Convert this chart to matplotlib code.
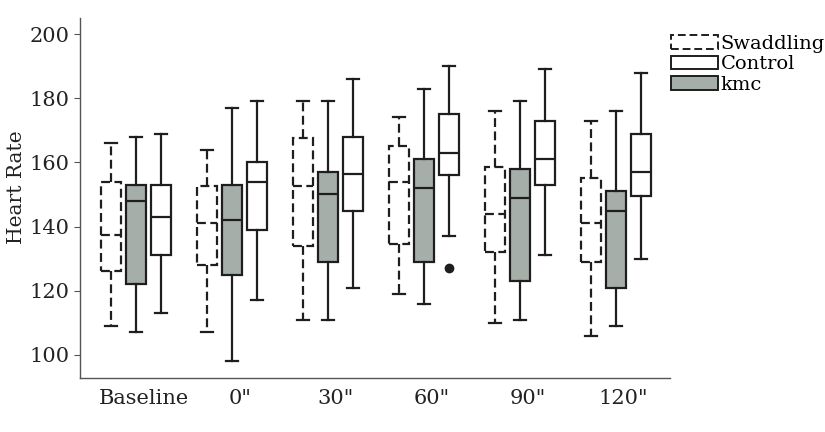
import numpy as np
import matplotlib.pyplot as plt
from matplotlib.patches import Patch

plt.rcParams['font.family'] = ['DejaVu Serif']

times = ['Baseline', '0"', '30"', '60"', '90"', '120"']

# Swaddling
swad_low = [109, 107, 111, 119, 110, 106]
swad_q1 = [126, 128, 134, 134.5, 132, 129]
swad_med = [137.5, 141, 152.5, 154, 144, 141]
swad_q3 = [154, 152.5, 167.5, 165, 158.5, 155]
swad_high = [166, 164, 179, 174, 176, 173]

# kmc
kmc_low = [107, 98, 111, 116, 111, 109]
kmc_q1 = [122, 125, 129, 129, 123, 121]
kmc_med = [148, 142, 150, 152, 149, 145]
kmc_q3 = [153, 153, 157, 161, 158, 151]
kmc_high = [168, 177, 179, 183, 179, 176]

# Control
ctrl_low = [113, 117, 121, 137, 131, 130]
ctrl_q1 = [131, 139, 145, 156, 153, 149.5]
ctrl_med = [143, 154, 156.5, 163, 161, 157]
ctrl_q3 = [153, 160, 168, 175, 173, 169]
ctrl_high = [169, 179, 186, 190, 189, 188]
ctrl_fliers = [[], [], [], [127], [], []]


def make_stats(low, q1, med, q3, high, fliers=None):
    stats = []
    for i in range(len(low)):
        stats.append({'whislo': low[i], 'q1': q1[i], 'med': med[i],
                      'q3': q3[i], 'whishi': high[i],
                      'fliers': fliers[i] if fliers else []})
    return stats


line_col = '#1e1e1e'
grey = '#a6aeaa'
dash = (0, (4, 2))

fig = plt.figure(figsize=(8.25, 4.32), dpi=100)
ax = fig.add_axes([80 / 825, 1 - 378 / 432, 590 / 825, 360 / 432])

x = np.arange(len(times))
off = 0.26
w = 0.2


def draw(stats, pos, face, ls):
    lp = dict(color=line_col, linewidth=1.6, linestyle=ls)
    ax.bxp(stats, positions=pos, widths=w, patch_artist=True,
           capwidths=0.13,
           boxprops=dict(facecolor=face, edgecolor=line_col, linewidth=1.6, linestyle=ls),
           whiskerprops=lp,
           capprops=dict(color=line_col, linewidth=1.6),
           medianprops=lp,
           flierprops=dict(marker='o', markerfacecolor=line_col, markeredgecolor=line_col,
                           markersize=6),
           manage_ticks=False)


draw(make_stats(swad_low, swad_q1, swad_med, swad_q3, swad_high), x - off, 'white', dash)
draw(make_stats(kmc_low, kmc_q1, kmc_med, kmc_q3, kmc_high), x, grey, '-')
draw(make_stats(ctrl_low, ctrl_q1, ctrl_med, ctrl_q3, ctrl_high, ctrl_fliers), x + off, 'white', '-')

ax.set_xlim(-0.583, 5.563)
ax.set_ylim(92.8, 205)
ax.set_xticks(x + 0.08)
ax.set_xticklabels(times, fontsize=15, color='#222222')
ax.tick_params(axis='x', length=0, pad=8)
ax.set_yticks([100, 120, 140, 160, 180, 200])
ax.tick_params(axis='y', labelsize=15, length=4, color='#555555', labelcolor='#222222')
ax.set_ylabel('Heart Rate', fontsize=14.5, color='#222222')
ax.yaxis.set_label_coords(-0.092, 0.53)

for s in ['top', 'right']:
    ax.spines[s].set_visible(False)
for s in ['left', 'bottom']:
    ax.spines[s].set_color('#555555')
    ax.spines[s].set_linewidth(1.0)

handles = [Patch(facecolor='white', edgecolor=line_col, linewidth=1.4, linestyle=dash),
           Patch(facecolor='white', edgecolor=line_col, linewidth=1.4),
           Patch(facecolor=grey, edgecolor=line_col, linewidth=1.4)]
fig.legend(handles, ['Swaddling', 'Control', 'kmc'], loc='upper left',
           bbox_to_anchor=(671 / 825, 1 - 35 / 432), frameon=False, fontsize=14,
           handlelength=2.4, handleheight=0.7, handletextpad=0.15,
           labelspacing=0.12, borderaxespad=0, borderpad=0)

fig.savefig('out.png', dpi=100)
